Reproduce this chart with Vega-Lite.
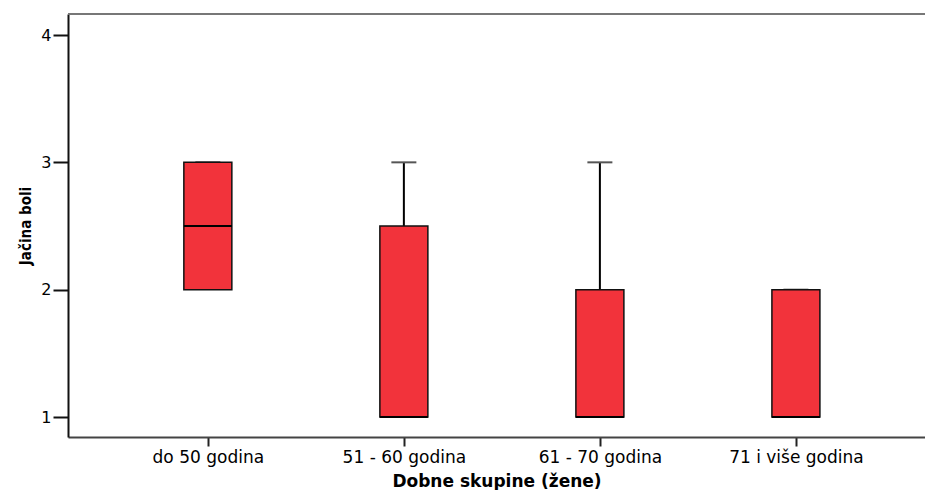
{
  "$schema": "https://vega.github.io/schema/vega-lite/v6.json",
  "width": 857,
  "height": 423,
  "autosize": "none",
  "padding": {"left": 68, "top": 14, "right": 0, "bottom": 53},
  "background": "white",
  "config": {
    "view": {"stroke": null},
    "axis": {"grid": false, "labelFont": "DejaVu Sans", "labelColor": "black", "titleColor": "black"}
  },
  "data": {
    "values": [
      {"group": "do 50 godina", "min": 2, "q1": 2, "median": 2.5, "q3": 3, "max": 3},
      {"group": "51 - 60 godina", "min": 1, "q1": 1, "median": 1, "q3": 2.5, "max": 3},
      {"group": "61 - 70 godina", "min": 1, "q1": 1, "median": 1, "q3": 2, "max": 3},
      {"group": "71 i više godina", "min": 1, "q1": 1, "median": 1, "q3": 2, "max": 2}
    ]
  },
  "encoding": {
    "x": {
      "field": "group",
      "type": "nominal",
      "sort": null,
      "scale": {"type": "point", "padding": 0.686, "align": 0.52},
      "axis": {
        "title": "Dobne skupine (žene)",
        "titleFont": "DejaVu Sans",
        "titleFontSize": 17,
        "titleFontWeight": "bold",
        "titlePadding": 8,
        "labelAngle": 0,
        "labelFontSize": 17,
        "labelPadding": 3,
        "tickSize": 9,
        "tickWidth": 2,
        "tickColor": "#222",
        "domainColor": "#444",
        "domainWidth": 2
      }
    }
  },
  "layer": [
    {
      "mark": {"type": "rule", "color": "black", "strokeWidth": 2},
      "encoding": {
        "y": {
          "field": "min",
          "type": "quantitative",
          "scale": {"domain": [0.843, 4.165], "nice": false, "zero": false},
          "axis": {
            "title": "Jačina boli",
            "titleFont": "DejaVu Sans Condensed",
            "titleFontSize": 15,
            "titleFontWeight": "bold",
            "titlePadding": 7,
            "values": [1, 2, 3, 4],
            "format": "d",
            "labelFontSize": 16,
            "labelPadding": 2,
            "tickSize": 15,
            "tickWidth": 2,
            "tickColor": "#111",
            "domainColor": "#111",
            "domainWidth": 2
          }
        },
        "y2": {"field": "max"}
      }
    },
    {
      "mark": {"type": "tick", "color": "#555", "size": 25, "thickness": 2, "opacity": 1},
      "encoding": {"y": {"field": "max", "type": "quantitative"}}
    },
    {
      "mark": {"type": "bar", "fill": "#f2333b", "stroke": "#111", "strokeWidth": 1.5, "width": 48},
      "encoding": {
        "y": {"field": "q1", "type": "quantitative"},
        "y2": {"field": "q3"}
      }
    },
    {
      "mark": {"type": "tick", "color": "black", "size": 48, "thickness": 2, "opacity": 1},
      "encoding": {"y": {"field": "median", "type": "quantitative"}}
    },
    {
      "mark": {"type": "rule", "color": "#777", "strokeWidth": 2},
      "encoding": {
        "x": {"value": 0},
        "x2": {"value": 857},
        "y": {"datum": 4.165}
      }
    }
  ]
}
